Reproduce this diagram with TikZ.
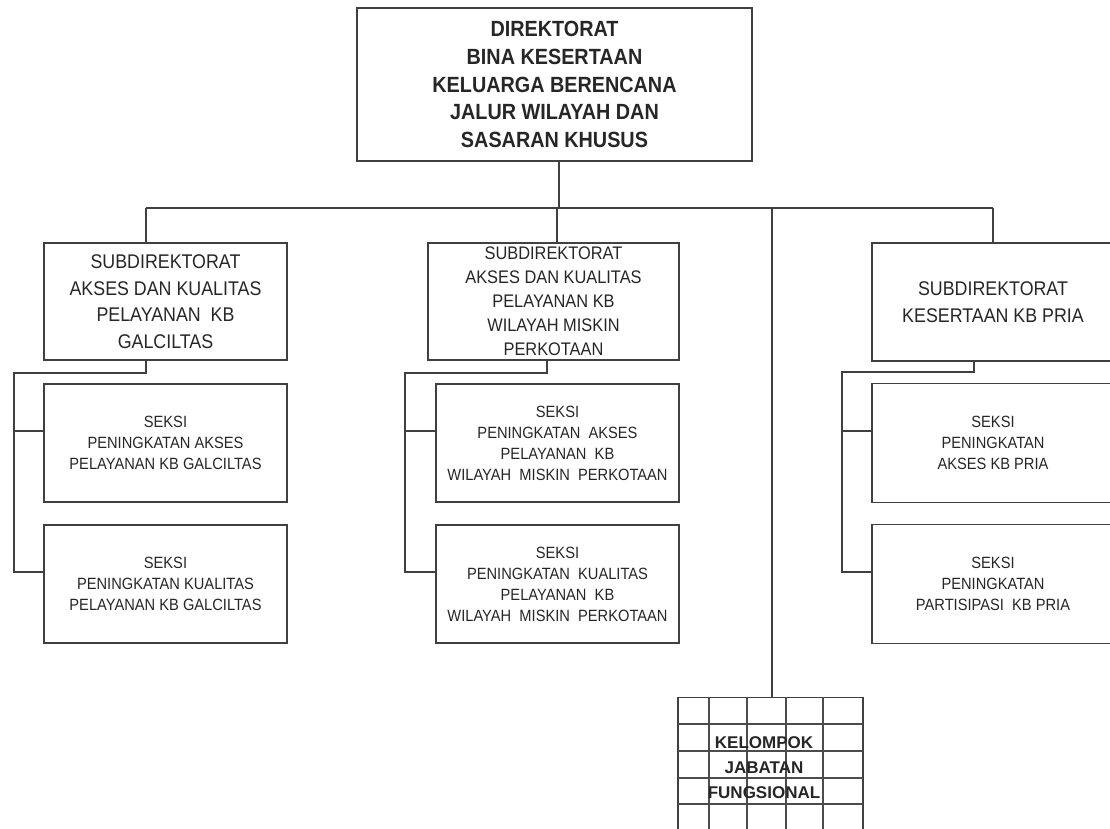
\documentclass[tikz,border=0pt]{standalone}
\usepackage{fontspec}
\setmainfont{Liberation Sans}
% slightly condensed face for the box labels
\newfontfamily\narrowsans[FakeStretch=0.9]{Liberation Sans}
\begin{document}
\begin{tikzpicture}[x=1pt,y=-1pt,
  box/.style={draw=black!75, line width=1.2pt, rectangle, inner sep=0pt,
    align=center, text=black!85},
  link/.style={draw=black!75, line width=1.2pt},
  headfont/.style={font=\narrowsans\bfseries\fontsize{22}{27.7}\selectfont},
  subfont/.style={font=\narrowsans\fontsize{19.8}{26.5}\selectfont},
  midfont/.style={font=\narrowsans\fontsize{18.2}{24}\selectfont},
  seksifont/.style={font=\narrowsans\fontsize{16.3}{21}\selectfont},
  gridline/.style={draw=black!70, line width=1.1pt}]
\useasboundingbox (0,0) rectangle (1110,828);
\clip (0,0) rectangle (1110,828);

% Directorate
\node[box, headfont, minimum width=395, minimum height=153] (dir) at (554.5,84.5)
  {DIREKTORAT\\BINA KESERTAAN\\KELUARGA BERENCANA\\JALUR WILAYAH DAN\\SASARAN KHUSUS};

% Sub-directorates
\node[box, subfont, minimum width=243, minimum height=117] (s1) at (165.5,301.5)
  {SUBDIREKTORAT\\AKSES DAN KUALITAS\\PELAYANAN\ \ KB\\GALCILTAS};
\node[box, midfont, minimum width=251, minimum height=117] (s2) at (553.5,301.5)
  {SUBDIREKTORAT\\AKSES DAN KUALITAS\\PELAYANAN KB\\WILAYAH MISKIN\\PERKOTAAN};
\node[box, subfont, minimum width=242, minimum height=118] (s3) at (993,302)
  {SUBDIREKTORAT\\KESERTAAN KB PRIA};

% Sections
\node[box, seksifont, minimum width=243, minimum height=118] (k11) at (165.5,443)
  {SEKSI\\PENINGKATAN AKSES\\PELAYANAN KB GALCILTAS};
\node[box, seksifont, minimum width=243, minimum height=118] (k12) at (165.5,584)
  {SEKSI\\PENINGKATAN KUALITAS\\PELAYANAN KB GALCILTAS};
\node[box, seksifont, minimum width=243, minimum height=118] (k21) at (557.5,443)
  {SEKSI\\PENINGKATAN\ \ AKSES\\PELAYANAN\ \ KB\\WILAYAH\ \ MISKIN\ \ PERKOTAAN};
\node[box, seksifont, minimum width=243, minimum height=118] (k22) at (557.5,584)
  {SEKSI\\PENINGKATAN\ \ KUALITAS\\PELAYANAN\ \ KB\\WILAYAH\ \ MISKIN\ \ PERKOTAAN};
\node[box, seksifont, minimum width=242, minimum height=119] (k31) at (993,443)
  {SEKSI\\PENINGKATAN\\AKSES KB PRIA};
\node[box, seksifont, minimum width=242, minimum height=119] (k32) at (993,584)
  {SEKSI\\PENINGKATAN\\PARTISIPASI\ \ KB PRIA};

% Functional group: gridded block
\node[box, minimum width=185, minimum height=160, anchor=north] (kjf) at (770.5,697) {};
\foreach \gx in {709,747,786,823}
  \draw[gridline] (\gx,697) -- (\gx,860);
\foreach \gy in {724,751,778,804,831}
  \draw[gridline] (678,\gy) -- (863,\gy);
\node[align=center, text=black!85, font=\bfseries\fontsize{17}{25}\selectfont] (kjftext)
  at (764,768) {KELOMPOK\\JABATAN\\FUNGSIONAL};

% Main bus
\coordinate (hub) at (559,208);
\coordinate (busL) at (146,208);
\coordinate (busR) at (993,208);
\coordinate (busM) at (557,208);
\coordinate (busF) at (772,208);
\draw[link] (hub |- dir.south) -- (hub);
\draw[link] (busL) -- (busR);
\draw[link] (busL) -- (busL |- s1.north);
\draw[link] (busM) -- (busM |- s2.north);
\draw[link] (busR) -- (s3.north);
\draw[link] (busF) -- (busF |- kjf.north);

% Left branch
\coordinate (t1) at (14,373);
\coordinate (a11) at ([yshift=12pt]k11.west);
\coordinate (a12) at ([yshift=12pt]k12.west);
\draw[link] (busL |- s1.south) |- (t1) -- (t1 |- a12) -- (a12);
\draw[link] (a11 -| t1) -- (a11);

% Middle branch
\coordinate (t2) at (405,373);
\coordinate (a21) at ([yshift=12pt]k21.west);
\coordinate (a22) at ([yshift=12pt]k22.west);
\draw[link] ([xshift=-6.5pt]s2.south) |- (t2) -- (t2 |- a22) -- (a22);
\draw[link] (a21 -| t2) -- (a21);

% Right branch
\coordinate (t3) at (842,372);
\coordinate (a31) at ([yshift=12pt]k31.west);
\coordinate (a32) at ([yshift=12pt]k32.west);
\draw[link] ([xshift=-19pt]s3.south) |- (t3) -- (t3 |- a32) -- (a32);
\draw[link] (a31 -| t3) -- (a31);
\end{tikzpicture}
\end{document}
